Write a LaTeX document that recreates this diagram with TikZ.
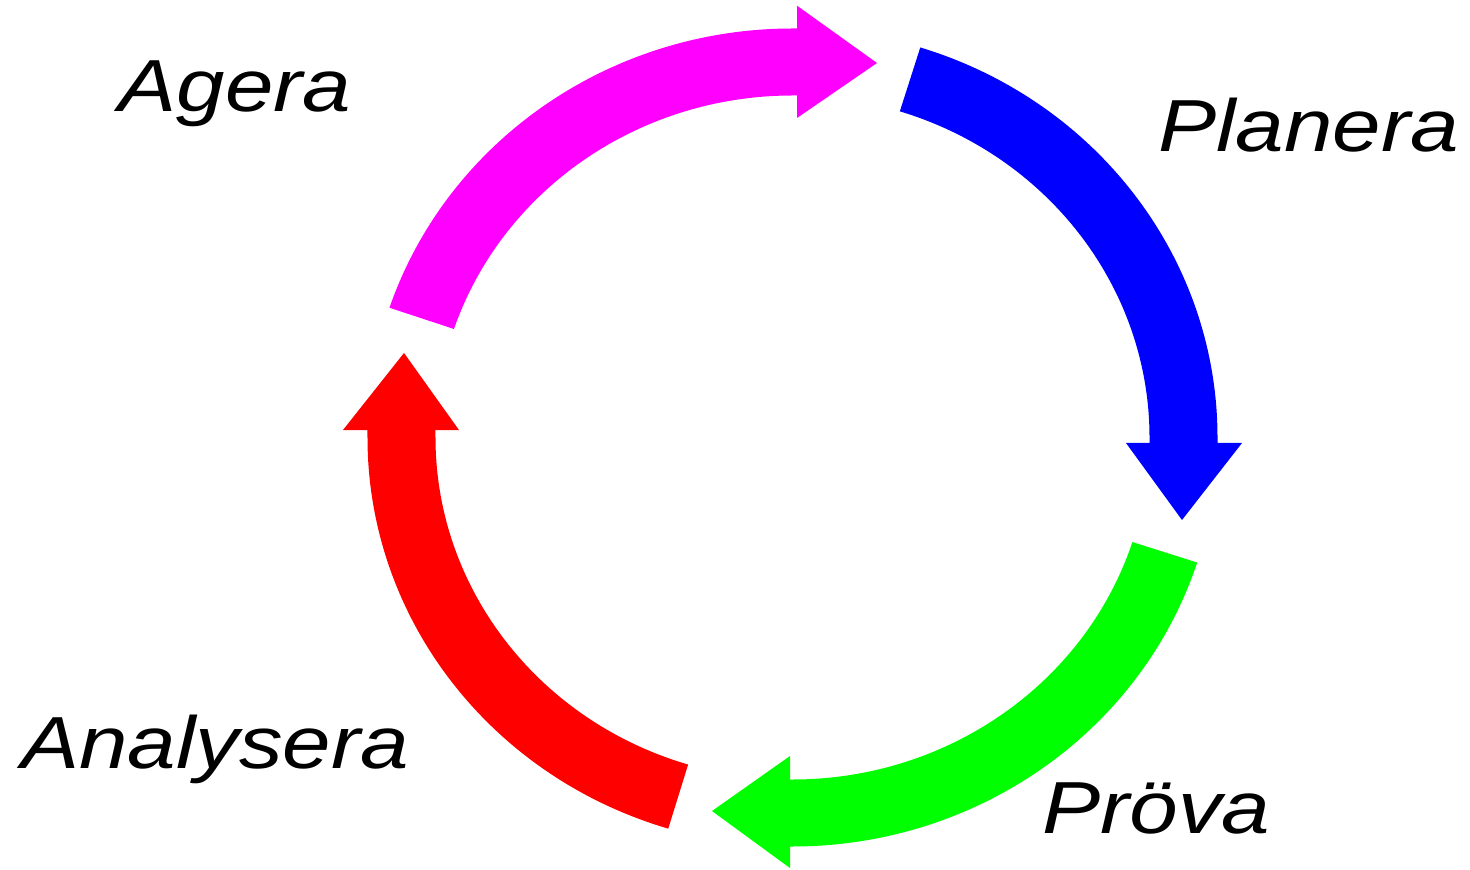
\documentclass[tikz,border=0pt]{standalone}
\usepackage{fontspec}
\usepackage{xcolor}
\usepackage{tikz}
\newfontfamily\cyclefont{Liberation Sans}[FakeStretch=1.18]
\definecolor{Agera}{HTML}{FF00FF}
\definecolor{Planera}{HTML}{0000FF}
\definecolor{Prova}{HTML}{00FF00}
\definecolor{Analysera}{HTML}{FF0000}

\begin{document}
\begin{tikzpicture}[
                phase/.style={draw=none},
                label/.style={font=\cyclefont\itshape\fontsize{21}{25}\selectfont,
                              inner sep=0pt, anchor=base}]
                \useasboundingbox (-7.925,-4.315) rectangle (6.775,4.375);

                % Agera -> Planera
                \fill[phase, Agera] (161.5:4.25 and 4.09)
                    arc[start angle=161.5, end angle=90, x radius=4.25, y radius=4.09]
                    -- (0.045,4.09) -- (0.045,4.318) -- (0.845,3.745) -- (0.045,3.195)
                    -- (0.045,3.42) -- (90:3.57 and 3.42)
                    arc[start angle=90, end angle=161.5, x radius=3.57, y radius=3.42] -- cycle;
                % Planera -> Pröva
                \fill[phase, Planera] (72.5:4.25 and 4.09)
                    arc[start angle=72.5, end angle=0, x radius=4.25, y radius=4.09]
                    -- (4.25,-0.055) -- (4.495,-0.055) -- (3.895,-0.825) -- (3.335,-0.055)
                    -- (3.57,-0.055) -- (0:3.57 and 3.42)
                    arc[start angle=0, end angle=72.5, x radius=3.57, y radius=3.42] -- cycle;
                % Pröva -> Analysera
                \fill[phase, Prova] (-17.8:4.25 and 4.09)
                    arc[start angle=-17.8, end angle=-90, x radius=4.25, y radius=4.09]
                    -- (-0.025,-4.09) -- (-0.025,-4.305) -- (-0.805,-3.735) -- (-0.025,-3.185)
                    -- (-0.025,-3.42) -- (-90:3.57 and 3.42)
                    arc[start angle=-90, end angle=-17.8, x radius=3.57, y radius=3.42] -- cycle;
                % Analysera -> Agera
                \fill[phase, Analysera] (-107:4.25 and 4.09)
                    arc[start angle=-107, end angle=-180, x radius=4.25, y radius=4.09]
                    -- (-4.25,0.075) -- (-4.495,0.075) -- (-3.885,0.845) -- (-3.335,0.075)
                    -- (-3.57,0.075) -- (180:3.57 and 3.42)
                    arc[start angle=-180, end angle=-107, x radius=3.57, y radius=3.42] -- cycle;

                \node[label] (agera)     at (-5.575, 3.255)  {Agera};
                \node[label] (planera)   at (5.16, 2.855)    {Planera};
                \node[label] (prova)     at (3.64, -3.955)   {Pröva};
                \node[label] (analysera) at (-5.775, -3.305) {Analysera};
            \end{tikzpicture}
\end{document}
